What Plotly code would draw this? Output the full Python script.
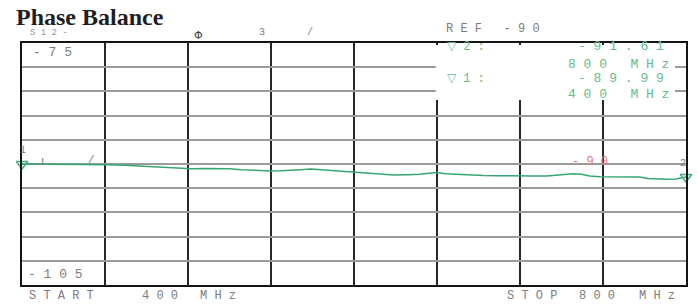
import plotly.graph_objects as go

# ---- data ----
freq_mhz = [400, 410, 420, 430, 440, 452, 462, 472, 480, 488, 495, 502, 510, 518, 525,
            532, 538, 545, 550, 556, 562, 568, 574, 580, 586, 592, 600, 608, 616, 624,
            632, 640, 645, 650, 655, 660, 665, 670, 678, 686, 694, 700, 708, 716, 722,
            727, 732, 737, 742, 748, 756, 764, 772, 777, 782, 788, 794, 800]
phase_db = [-89.99, -90.00, -90.02, -90.03, -90.05, -90.08, -90.15, -90.28, -90.38, -90.48,
            -90.55, -90.60, -90.55, -90.55, -90.58, -90.70, -90.78, -90.82, -90.88, -90.85,
            -90.82, -90.70, -90.62, -90.70, -90.85, -90.95, -91.00, -91.10, -91.25, -91.35,
            -91.32, -91.28, -91.15, -91.05, -91.20, -91.25, -91.38, -91.35, -91.42, -91.45,
            -91.50, -91.52, -91.50, -91.48, -91.35, -91.25, -91.22, -91.28, -91.48, -91.58,
            -91.60, -91.60, -91.62, -91.80, -91.88, -91.90, -91.85, -91.61]
marker_freq = [400, 800]
marker_val = [-89.99, -91.61]
marker_ids = ["1", "2"]
y_top, y_bottom, y_ref = -75, -105, -90
x_start, x_stop = 400, 800

W, H = 698, 304
L, R, T, B = 22, 10, 43, 19
PW, PH = W - L - R, H - T - B


def px(x):
    return (x - L) / PW


def py(y):
    return (H - B - y) / PH


fig = go.Figure()
fig.add_trace(go.Scatter(x=freq_mhz, y=phase_db, mode="lines",
                         line=dict(color="rgb(55,165,115)", width=1.5),
                         hoverinfo="skip", showlegend=False))
fig.add_trace(go.Scatter(x=marker_freq, y=marker_val, mode="markers",
                         marker=dict(symbol="triangle-down-open", size=10,
                                     color="rgb(70,175,125)", line=dict(width=1.5)),
                         cliponaxis=False, showlegend=False, hoverinfo="skip"))

gray = "rgb(125,125,125)"
green = "rgb(100,188,140)"
mono = "Liberation Mono"

ann = []


def add(text, x, y, size=11, color=gray, family=mono, xanchor="left", bold=False):
    ann.append(dict(text=("<b>%s</b>" % text) if bold else text, x=px(x), y=py(y),
                    xref="paper", yref="paper", xanchor=xanchor, yanchor="middle",
                    showarrow=False, font=dict(size=size, color=color, family=family)))


def spaced(s):
    return " ".join(s)


add(spaced("S12-"), 28, 33, size=9, color="rgb(150,150,150)")
add("Phase Balance", 14, 17, size=24, color="rgb(30,30,30)", family="Liberation Serif", bold=True)
add("Φ", 193, 35, size=11, color="rgb(60,60,60)", family="DejaVu Sans")
add("3", 258, 33, size=10)
add("/", 306, 33, size=10)
add("R E F   - 9 0", 445, 29, size=12)

add(spaced("-75"), 31, 52, size=13)
add(spaced("-105"), 26, 274, size=13)

add(spaced("START"), 27, 296, size=12)
add(spaced("400"), 140, 296, size=12)
add(spaced("MHz"), 199, 296, size=12)
add(spaced("STOP"), 506, 296, size=12)
add(spaced("800"), 579, 296, size=12)
add(spaced("MHz"), 639, 296, size=12)

add("▽ 2 :", 446, 47, size=12, color=green)
add(spaced("-91.61"), 668, 47, size=13, color=green, xanchor="right")
add(spaced("800") + "   " + spaced("MHz"), 673, 64, size=13, color=green, xanchor="right")
add("▽ 1 :", 446, 79, size=12, color=green)
add(spaced("-89.99"), 668, 79, size=13, color=green, xanchor="right")
add(spaced("400") + "   " + spaced("MHz"), 673, 95, size=13, color=green, xanchor="right")

add(spaced("-90"), 572, 162, size=12, color="rgb(215,120,120)")

# marker labels on trace
add(marker_ids[0], 18, 150, size=10)
add("ᒧ", 36, 162, size=10)
add("/", 86, 160, size=11)
add(marker_ids[1], 680, 163, size=10)

shapes = [dict(type="rect", xref="paper", yref="paper", x0=px(437), x1=px(677),
               y0=py(100), y1=py(45), fillcolor="white", line=dict(width=0), layer="above")]

fig.update_layout(
    width=W, height=H, margin=dict(l=L, r=R, t=T, b=B),
    paper_bgcolor="white", plot_bgcolor="white",
    xaxis=dict(range=[x_start, x_stop], tick0=x_start, dtick=50, showticklabels=False,
               showgrid=True, gridcolor="rgb(40,40,40)", gridwidth=1.5, zeroline=False,
               showline=True, mirror=True, linecolor="rgb(20,20,20)", linewidth=2, ticks=""),
    yaxis=dict(range=[y_bottom, y_top], tick0=y_bottom, dtick=3, showticklabels=False,
               showgrid=True, gridcolor="rgb(155,155,155)", gridwidth=1.5, zeroline=False,
               showline=True, mirror=True, linecolor="rgb(20,20,20)", linewidth=2, ticks=""),
    annotations=ann, shapes=shapes, showlegend=False,
)
fig.write_html("out.html", config={"displayModeBar": False},
               post_script="document.body.style.margin='0';document.body.style.overflow='hidden';")
